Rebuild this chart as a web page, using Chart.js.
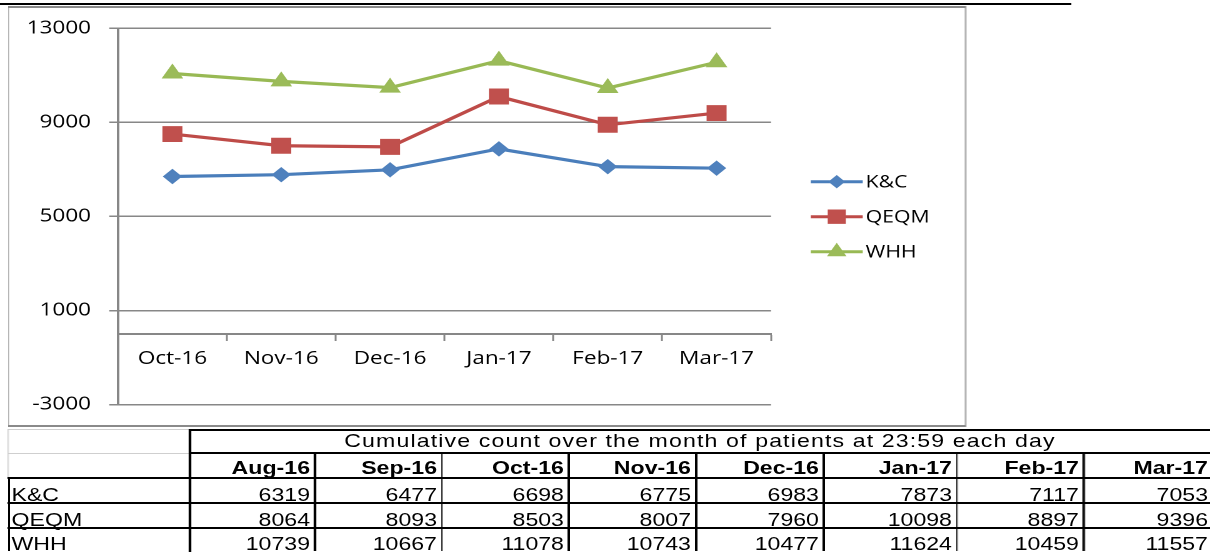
<!DOCTYPE html>
<html>
<head>
<meta charset="utf-8">
<script src="https://cdn.jsdelivr.net/npm/chart.js@4.4.1/dist/chart.umd.min.js"></script>
<style>
html,body{margin:0;padding:0;background:#fff;overflow:hidden;}
body{width:1210px;height:552px;position:relative;}
#wrap{position:absolute;left:0;top:0;width:968px;height:552px;transform:scaleX(1.25);transform-origin:0 0;}
#chartBox{position:absolute;left:0;top:0;width:968px;height:430px;}
#frame{position:absolute;left:6.4px;top:6px;width:764.8px;height:417px;border-style:solid;border-color:#8a8a8a;border-width:2px 1.6px;pointer-events:none;}
.ln{position:absolute;}
.tx{position:absolute;white-space:nowrap;font-family:"Liberation Sans",Arial,sans-serif;font-size:18.5px;line-height:18.5px;color:#000;}
</style>
</head>
<body>
<div id="wrap">
  <div class="ln" style="left:0;top:3px;width:856.8px;height:2px;background:#000;"></div>
  <div id="chartBox"><canvas id="c" width="968" height="430"></canvas></div>
  <div id="frame"></div>
</div>
<script>
// ---- data ----
const categories = ['Oct-16','Nov-16','Dec-16','Jan-17','Feb-17','Mar-17'];
const tableMonths = ['Aug-16','Sep-16','Oct-16','Nov-16','Dec-16','Jan-17','Feb-17','Mar-17'];
const seriesNames = ['K&C','QEQM','WHH'];
const kcValues   = [6319, 6477, 6698, 6775, 6983, 7873, 7117, 7053];
const qeqmValues = [8064, 8093, 8503, 8007, 7960, 10098, 8897, 9396];
const whhValues  = [10739, 10667, 11078, 10743, 10477, 11624, 10459, 11557];
const yTicks = [-3000, 1000, 5000, 9000, 13000];
const tableCaption = 'Cumulative count over the month of patients at 23:59 each day';

const seriesValues = [kcValues, qeqmValues, whhValues];
const pick = arr => categories.map(m => arr[tableMonths.indexOf(m)]);

const styles = [
  {line:'#4A7EBB', fill:'#4F81BD', shape:'rectRot', r:7, lr:6},
  {line:'#BE4B48', fill:'#C0504D', shape:'rect', r:10.6, lr:9.5},
  {line:'#98B954', fill:'#9BBB59', shape:'triangle', r:9, lr:8}
];

const datasets = seriesNames.map((name, i) => ({
  label: name,
  data: pick(seriesValues[i]),
  borderColor: styles[i].line,
  backgroundColor: styles[i].fill,
  pointBackgroundColor: styles[i].fill,
  pointBorderColor: styles[i].fill,
  pointStyle: styles[i].shape,
  pointRadius: styles[i].r,
  pointHoverRadius: styles[i].r,
  pointBorderWidth: 1,
  borderWidth: 3.2,
  tension: 0,
  fill: false,
  legendRadius: styles[i].lr
}));

const legendPlugin = {
  id: 'sideLegend',
  afterDraw(chart) {
    const ctx = chart.ctx;
    const ys = [181.7, 216.7, 251.7];
    chart.data.datasets.forEach((ds, i) => {
      const y = ys[i];
      ctx.save();
      ctx.strokeStyle = ds.borderColor;
      ctx.lineWidth = 3;
      ctx.beginPath();
      ctx.moveTo(648.6, y);
      ctx.lineTo(690.2, y);
      ctx.stroke();
      ctx.fillStyle = ds.pointBackgroundColor;
      ctx.strokeStyle = ds.pointBorderColor;
      ctx.lineWidth = 1;
      Chart.helpers.drawPoint(ctx, {pointStyle: ds.pointStyle, radius: ds.legendRadius, borderWidth: 1, rotation: 0}, 669.4, y);
      ctx.fillStyle = '#000';
      ctx.font = '17px "Open Sans"';
      ctx.textBaseline = 'middle';
      ctx.textAlign = 'left';
      ctx.fillText(ds.label, 692.5, y + 1);
      ctx.restore();
    });
  }
};

const gridGray = '#878787';
new Chart(document.getElementById('c'), {
  type: 'line',
  data: {labels: categories, datasets},
  plugins: [legendPlugin],
  options: {
    responsive: false,
    animation: false,
    devicePixelRatio: 2,
    layout: {padding: {left: 0, top: 28.3, right: 351.2, bottom: 24.3}},
    plugins: {legend: {display: false}, tooltip: {enabled: false}, title: {display: false}},
    scales: {
      x: {
        type: 'category',
        position: {y: 0},
        offset: true,
        grid: {offset: true, drawOnChartArea: false, drawTicks: true, tickLength: 6, tickColor: gridGray, tickWidth: 1.5},
        border: {display: true, color: gridGray, width: 2},
        ticks: {color: '#000', font: {family: 'Open Sans', size: 18}, padding: 8, maxRotation: 0, autoSkip: false}
      },
      y: {
        min: -3000, max: 13000,
        afterBuildTicks: s => { s.ticks = yTicks.map(v => ({value: v})); },
        afterFit: s => { s.width = 94.4; },
        grid: {color: gridGray, lineWidth: 1.5, drawTicks: true, tickLength: 7, tickColor: gridGray, tickWidth: 1.5},
        border: {display: true, color: gridGray, width: 2},
        ticks: {color: '#000', font: {family: 'Open Sans', size: 18}, padding: 14.6, callback: v => String(v)}
      }
    }
  }
});

// ---- data table ----
const wrap = document.getElementById('wrap');
const colEdges = [0, 152, 252.8, 354.4, 456, 557.6, 660, 766.4, 868, 968];
const captionTop = 429, monthTop = 453, dataTops = [478, 503, 528];
function addLine(x, y, w, h, color) {
  const d = document.createElement('div');
  d.className = 'ln';
  d.style.cssText = `left:${x}px;top:${y}px;width:${w}px;height:${h}px;background:${color};`;
  wrap.appendChild(d);
}
function addText(txt, left, width, baseline, align, extra) {
  const d = document.createElement('div');
  d.className = 'tx';
  d.textContent = txt;
  d.style.cssText = `left:${left}px;width:${width}px;top:${baseline - 15.66}px;text-align:${align};` + (extra || '');
  wrap.appendChild(d);
}
// light gray spreadsheet gridlines in first column header area
addLine(6.4, captionTop, 145.6, 1, '#cfcfcf');
addLine(6.4, monthTop - 0.5, 145.6, 1.5, '#cfcfcf');
addLine(6.4, captionTop, 1, monthTop + 25 - captionTop, '#cfcfcf');
// black borders
addLine(152, captionTop - 0.5, 816, 2, '#000');
addLine(152, monthTop - 1, 816, 2, '#000');
dataTops.forEach(t => addLine(6.4, t - 1, 961.6, 2, '#000'));
addLine(151.2, captionTop - 0.5, 1.6, 552 - captionTop, '#000');
addLine(6.4, dataTops[0] - 1, 1.6, 552 - dataTops[0], '#000');
for (let i = 2; i < colEdges.length - 1; i++) addLine(colEdges[i] - 1.6, monthTop - 1, 1.6, 552 - monthTop, '#000');
// caption
addText(tableCaption, 152, 816, 448, 'center', 'letter-spacing:0.9px;');
// month headers
tableMonths.forEach((m, j) => {
  const l = colEdges[j + 1], r = colEdges[j + 2];
  addText(m, l, r - l - (j === tableMonths.length - 1 ? 1.6 : 4.8), 475, 'right', 'font-weight:bold;');
});
// data rows
const baselines = [501.5, 526.5, 551];
seriesNames.forEach((name, i) => {
  addText(name, 9.2, 140, baselines[i], 'left');
  seriesValues[i].forEach((v, j) => {
    const l = colEdges[j + 1], r = colEdges[j + 2];
    addText(String(v), l, r - l - (j === tableMonths.length - 1 ? 1.6 : 4.8), baselines[i], 'right');
  });
});
</script>
</body>
</html>
